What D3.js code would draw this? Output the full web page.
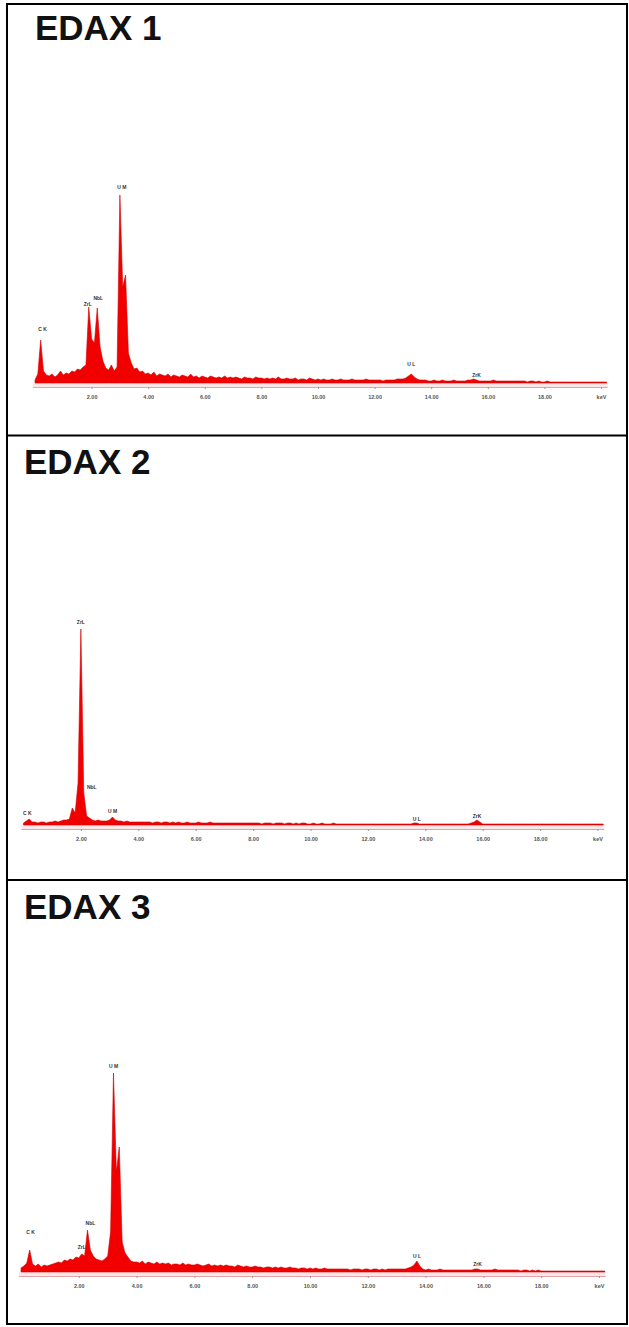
<!DOCTYPE html>
<html><head><meta charset="utf-8">
<script src="https://cdn.jsdelivr.net/npm/d3@7"></script>
<style>body{margin:0;background:#fff}svg{display:block}</style>
</head><body><svg id="c" width="629" height="1327"></svg>
<script>
// ---- DATA ----
// EDS channels: energy (keV) = E_START + i * E_STEP
const E_START = 0.0, E_STEP = 0.1;
const spectrum1 = [
 3, 9, 43, 12, 8, 7, 9, 6, 8, 12,
 8, 10, 9, 12, 11, 14, 13, 16, 18, 76,
 44, 40, 75, 36, 22, 15, 13, 18, 12, 16,
 188, 96, 108, 30, 20, 14, 15, 11, 12, 9,
 10, 8, 11, 7, 9, 8, 7, 9, 6, 8,
 7, 6, 8, 7, 6, 9, 6, 7, 5, 7,
 6, 5, 7, 6, 5, 6, 5, 7, 5, 6,
 5, 6, 5, 4, 6, 5, 5, 4, 6, 5,
 5, 4, 5, 4, 5, 4, 6, 4, 4, 5,
 4, 4, 5, 3, 4, 4, 3, 5, 4, 3,
 4, 3, 4, 3, 3, 4, 3, 3, 4, 3,
 3, 3, 4, 3, 3, 3, 3, 4, 3, 3,
 3, 3, 3, 2, 3, 3, 3, 3, 4, 4,
 4, 5, 7, 9, 6, 4, 3, 3, 3, 2,
 2, 3, 2, 2, 3, 2, 2, 2, 3, 2,
 2, 2, 2, 3, 3, 4, 3, 2, 2, 2,
 2, 2, 3, 2, 2, 2, 2, 2, 2, 2,
 2, 2, 2, 2, 1, 2, 2, 1, 2, 1,
 1, 2, 1, 1, 1, 1, 1, 1, 1, 1,
 1, 1, 1, 1, 1, 1, 1, 1, 1, 1,
 1, 1, 1
];
const spectrum2 = [
 2, 4, 6, 3, 3, 2, 3, 3, 2, 3,
 3, 4, 3, 4, 5, 5, 6, 17, 12, 42,
 196, 32, 9, 7, 5, 4, 5, 4, 4, 4,
 5, 8, 5, 4, 4, 3, 4, 3, 3, 3,
 3, 3, 3, 3, 3, 2, 3, 3, 2, 3,
 3, 2, 3, 2, 3, 2, 2, 3, 2, 2,
 2, 3, 2, 2, 2, 3, 2, 2, 2, 2,
 2, 2, 2, 2, 2, 2, 2, 2, 2, 2,
 2, 2, 2, 1, 2, 2, 2, 1, 2, 2,
 2, 1, 2, 2, 1, 2, 1, 2, 2, 1,
 1, 2, 1, 1, 2, 1, 1, 1, 2, 1,
 1, 1, 1, 1, 1, 1, 1, 1, 1, 1,
 1, 1, 1, 1, 1, 1, 1, 1, 1, 1,
 1, 1, 1, 1, 1, 1, 2, 2, 1, 1,
 1, 1, 1, 1, 1, 1, 1, 1, 1, 1,
 1, 1, 1, 1, 1, 1, 2, 3, 5, 3,
 1, 1, 1, 1, 1, 1, 1, 1, 1, 1,
 1, 1, 1, 1, 1, 1, 1, 1, 1, 1,
 1, 1, 1, 1, 1, 1, 1, 1, 1, 1,
 1, 1, 1, 1, 1, 1, 1, 1, 1, 1,
 1, 1, 1
];
const spectrum3 = [
 4, 6, 9, 22, 8, 6, 8, 5, 7, 6,
 7, 8, 9, 10, 9, 12, 11, 13, 12, 15,
 14, 18, 16, 42, 22, 16, 13, 12, 11, 13,
 16, 40, 199, 100, 125, 30, 19, 15, 11, 10,
 10, 9, 11, 8, 10, 9, 8, 10, 8, 9,
 8, 9, 7, 8, 8, 7, 9, 7, 8, 7,
 7, 8, 7, 6, 7, 8, 6, 7, 6, 7,
 6, 7, 6, 6, 5, 7, 6, 5, 6, 5,
 5, 6, 5, 5, 4, 5, 5, 4, 5, 4,
 5, 4, 4, 5, 4, 4, 3, 4, 4, 3,
 4, 3, 4, 3, 3, 4, 3, 3, 3, 3,
 3, 3, 3, 3, 2, 3, 3, 3, 2, 3,
 3, 2, 3, 3, 2, 3, 2, 3, 3, 3,
 3, 3, 3, 3, 4, 5, 7, 11, 6, 3,
 2, 3, 2, 2, 2, 3, 2, 2, 2, 2,
 2, 2, 2, 2, 2, 2, 2, 3, 3, 2,
 2, 2, 2, 2, 3, 2, 2, 2, 2, 2,
 2, 2, 2, 1, 2, 2, 1, 2, 1, 2,
 1, 1, 1, 1, 1, 1, 1, 1, 1, 1,
 1, 1, 1, 1, 1, 1, 1, 1, 1, 1,
 1, 1, 1
];
const titles = ["EDAX 1", "EDAX 2", "EDAX 3"];
const tickValues = [2, 4, 6, 8, 10, 12, 14, 16, 18, 20];
const tickLabels = ["2.00", "4.00", "6.00", "8.00", "10.00", "12.00", "14.00", "16.00", "18.00", "keV"];
const peakNames = ["C K", "ZrL", "NbL", "U M", "U L", "ZrK"];
const peakEnergies1 = [0.2, 1.9, 2.2, 3.0, 13.3, 15.6];
const peakEnergies2 = [0.2, 2.0, 2.1, 3.1, 13.7, 15.8];
const peakEnergies3 = [0.3, 2.1, 2.3, 3.2, 13.7, 15.8];

// ---- LAYOUT ----
const panels = [
  {data: spectrum1, peaks: peakEnergies1, title: titles[0], tx: 35, ty: 40, x0: 35, k: 28.3, base: 383,
   ldx: [2, -1, 1, 2, 0, 0], ldy: [9, 1, 8, 6, 8, 3]},
  {data: spectrum2, peaks: peakEnergies2, title: titles[1], tx: 24, ty: 474, x0: 23.5, k: 28.7, base: 825,
   ldx: [-2, 0, 8, 0, 0, 0], ldy: [4, 5, 4, 4, 2, 2]},
  {data: spectrum3, peaks: peakEnergies3, title: titles[2], tx: 24, ty: 919, x0: 21, k: 28.9, base: 1272,
   ldx: [1, 0, 3, 0, 0, 0], ldy: [16, 5, 5, 5, 3, 3]}
];

const svg = d3.select("#c");
svg.append("rect").attr("width", 629).attr("height", 1327).attr("fill", "#fff");

panels.forEach(p => {
  const eMax = E_START + (p.data.length - 1) * E_STEP;
  const x = d3.scaleLinear().domain([0, eMax]).range([p.x0, p.x0 + eMax * p.k]);
  const y = d3.scaleLinear().domain([0, 200]).range([p.base, p.base - 200]);
  const g = svg.append("g");

  g.append("text").attr("x", p.tx).attr("y", p.ty)
    .attr("font-family", "Liberation Sans, Arial, sans-serif").attr("font-weight", "bold")
    .attr("font-size", 35).attr("fill", "#111").text(p.title);

  // faint band under spectrum
  g.append("rect").attr("x", x(0) - 2).attr("y", p.base).attr("width", x(eMax) - x(0) + 3).attr("height", 4)
    .attr("fill", "#fbe6e8");

  // axis
  const axis = d3.axisBottom(x).tickValues(tickValues)
    .tickFormat((d, i) => tickLabels[i]).tickSize(2).tickSizeOuter(0).tickPadding(6);
  const ag = g.append("g").attr("transform", `translate(0,${p.base + 4})`).call(axis);
  ag.select(".domain").attr("stroke", "#e4a2aa").attr("stroke-width", 1)
    .attr("d", `M${x(0) - 2},0.5H${x(eMax) + 1}`);
  ag.selectAll(".tick line").attr("stroke", "#999");
  ag.selectAll(".tick text").attr("font-family", "Liberation Sans, Arial, sans-serif")
    .attr("font-weight", "bold").attr("font-size", 5.5).attr("fill", "#555");

  // spectrum
  const pts = p.data.map((v, i) => [E_START + i * E_STEP, v]);
  const area = d3.area().x(d => x(d[0])).y0(y(0)).y1(d => y(d[1]));
  g.append("path").datum(pts).attr("d", area)
    .attr("fill", "#f20000").attr("stroke", "#d40000").attr("stroke-width", 0.6)
    .attr("stroke-linejoin", "miter");

  // peak labels
  p.peaks.forEach((e, i) => {
    const v = p.data[Math.round((e - E_START) / E_STEP)];
    g.append("text").attr("x", x(e) + p.ldx[i]).attr("y", y(v) - p.ldy[i])
      .attr("text-anchor", "middle")
      .attr("font-family", "Liberation Sans, Arial, sans-serif").attr("font-weight", "bold")
      .attr("font-size", 5).attr("fill", "#333").text(peakNames[i]);
  });
});

// frame
const frame = svg.append("g").attr("stroke", "#000").attr("stroke-width", 2).attr("fill", "none");
frame.append("rect").attr("x", 7).attr("y", 4).attr("width", 620).attr("height", 1320);
frame.append("line").attr("x1", 7).attr("x2", 627).attr("y1", 435.5).attr("y2", 435.5);
frame.append("line").attr("x1", 7).attr("x2", 627).attr("y1", 880).attr("y2", 880);
</script></body></html>
